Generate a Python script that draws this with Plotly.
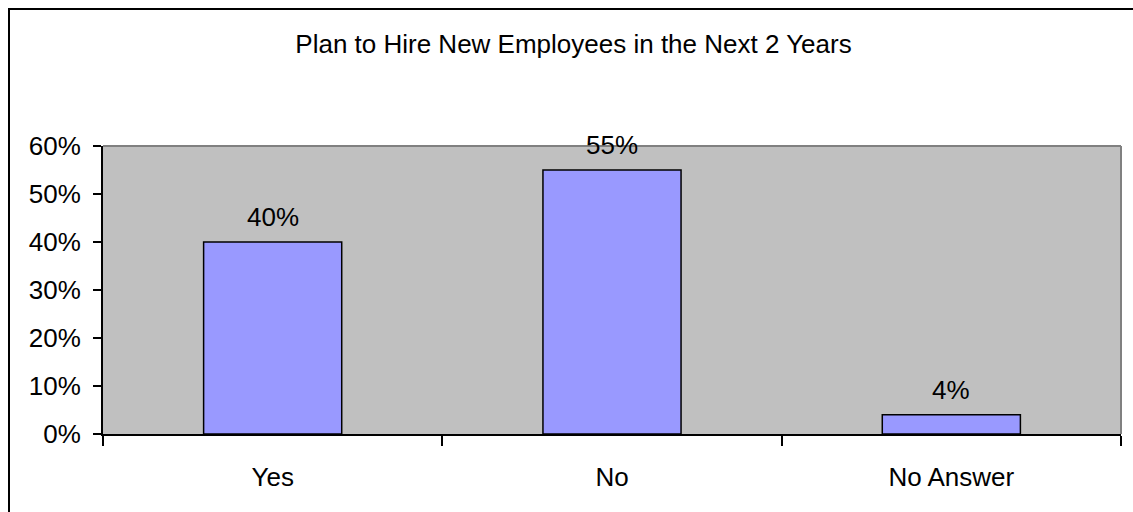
import plotly.graph_objects as go

# Survey results
categories = ["Yes", "No", "No Answer"]
shares = [40, 55, 4]  # percent of respondents
y_ticks = [0, 10, 20, 30, 40, 50, 60]
y_tick_labels = [f"{v}%" for v in y_ticks]
title_text = "Plan to Hire New Employees in the Next 2 Years"

FONT = "Liberation Sans, Arial, sans-serif"
FS = 26
W, H = 1133, 512
L, R, T, B = 103, 12, 146, 78
PW, PH = W - L - R, H - T - B

fig = go.Figure(
    go.Bar(
        x=categories,
        y=shares,
        marker=dict(color="#9999FF", line=dict(color="black", width=1.5)),
        hoverinfo="skip",
    )
)

# value labels above each bar
annotations = [
    dict(
        x=c, y=v, xref="x", yref="y",
        text=f"{v}%", showarrow=False,
        yanchor="middle", yshift=25,
        font=dict(family=FONT, size=FS, color="black"),
    )
    for c, v in zip(categories, shares)
]

def px_to_paper_x(px):
    return (px - L) / PW

def px_to_paper_y(py):
    return 1 - (py - T) / PH

shapes = [
    # grey frame on the top and right of the plotting area
    dict(type="line", xref="paper", yref="paper", x0=0, x1=1, y0=1, y1=1,
         line=dict(color="#808080", width=2), layer="above"),
    dict(type="line", xref="paper", yref="paper", x0=1, x1=1, y0=0, y1=1,
         line=dict(color="#808080", width=2), layer="above"),
    # outer chart border
    dict(type="rect", xref="paper", yref="paper",
         x0=px_to_paper_x(9), x1=px_to_paper_x(W + 20),
         y0=px_to_paper_y(H + 20), y1=px_to_paper_y(9),
         line=dict(color="black", width=2), fillcolor="rgba(0,0,0,0)"),
]

fig.update_layout(
    width=W, height=H,
    margin=dict(l=L, r=R, t=T, b=B, pad=0),
    paper_bgcolor="white",
    plot_bgcolor="#C0C0C0",
    bargap=0.593,
    showlegend=False,
    font=dict(family=FONT, size=FS, color="black"),
    title=dict(
        text=title_text,
        xref="container", x=573.5 / W, xanchor="center",
        yref="container", y=1 - 44 / H, yanchor="middle",
        font=dict(family=FONT, size=FS, color="black"),
    ),
    annotations=annotations,
    shapes=shapes,
    xaxis=dict(
        type="category",
        tickson="boundaries",
        ticks="outside", ticklen=10, tickwidth=2, tickcolor="black",
        showline=True, linecolor="black", linewidth=2,
        showgrid=False, zeroline=False,
        ticklabelstandoff=19,
        tickfont=dict(family=FONT, size=FS, color="black"),
    ),
    yaxis=dict(
        range=[0, 60],
        tickvals=y_ticks, ticktext=y_tick_labels,
        ticks="outside", ticklen=8, tickwidth=2, tickcolor="black",
        showline=True, linecolor="black", linewidth=2,
        showgrid=False, zeroline=False,
        ticklabelstandoff=7,
        tickfont=dict(family=FONT, size=FS, color="black"),
    ),
)

fig.write_html("out.html")
